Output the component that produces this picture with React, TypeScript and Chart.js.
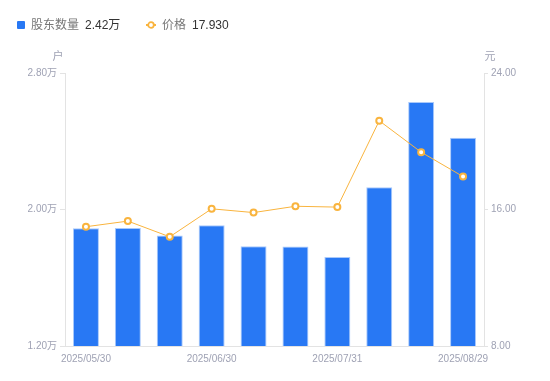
import React, { useEffect, useRef } from "react";
import { Chart, registerables } from "chart.js";

Chart.register(...registerables);

const categories = [
  "2025/05/30", "2025/06/10", "2025/06/20", "2025/06/30", "2025/07/10",
  "2025/07/20", "2025/07/31", "2025/08/10", "2025/08/20", "2025/08/29",
];
const shownLabels = ["2025/05/30", "2025/06/30", "2025/07/31", "2025/08/29"];
const holders = [1.89, 1.892, 1.847, 1.907, 1.784, 1.783, 1.722, 2.13, 2.63, 2.42];
const prices = [14.99, 15.32, 14.4, 16.04, 15.82, 16.19, 16.14, 21.2, 19.36, 17.93];
const leftTicks = [1.2, 2.0, 2.8];
const rightTicks = [8, 16, 24];
const holdersName = "股东数量";
const priceName = "价格";
const holdersLegendValue = "2.42万";
const priceLegendValue = "17.930";
const leftUnit = "户";
const rightUnit = "元";

const FONT = "Arial, 'Liberation Sans', 'Noto Sans CJK SC', sans-serif";
const TICK_COLOR = "#9fa2b4";
const AXIS_COLOR = "#e3e3e3";

export default function App() {
  const ref = useRef<HTMLCanvasElement | null>(null);

  useEffect(() => {
    document.body.style.margin = "0";
    const canvas = ref.current;
    if (!canvas) return;

    const unitPlugin = {
      id: "unitTitles",
      afterDraw(chart: any) {
        const ctx = chart.ctx;
        const a = chart.chartArea;
        ctx.save();
        ctx.font = `11px ${FONT}`;
        ctx.fillStyle = TICK_COLOR;
        ctx.textAlign = "center";
        ctx.textBaseline = "middle";
        ctx.fillText(leftUnit, a.left - 7, 57);
        ctx.fillText(rightUnit, a.right + 6, 57);
        ctx.restore();
      },
    };

    const chart = new Chart(canvas, {
      type: "bar",
      data: {
        labels: categories,
        datasets: [
          {
            type: "line",
            label: priceName,
            data: prices,
            yAxisID: "y1",
            borderColor: "#f9b43e",
            borderWidth: 1,
            pointRadius: 3,
            pointBorderWidth: 2,
            pointBackgroundColor: "#ffffff",
            pointBorderColor: "#f9b43e",
            tension: 0,
            order: 0,
          } as any,
          {
            type: "bar",
            label: holdersName,
            data: holders,
            yAxisID: "y",
            backgroundColor: "#2878f4",
            borderColor: "#a9c9fb",
            borderWidth: 1,
            categoryPercentage: 1,
            barPercentage: 0.62,
            order: 1,
          } as any,
        ],
      },
      options: {
        animation: false,
        responsive: false,
        maintainAspectRatio: false,
        layout: { padding: { left: 0, right: 0, top: 73, bottom: 0 } },
        plugins: {
          legend: { display: false },
          tooltip: { enabled: false },
        },
        scales: {
          x: {
            offset: true,
            grid: { display: false, drawTicks: false },
            border: { display: true, color: AXIS_COLOR },
            ticks: {
              autoSkip: false,
              maxRotation: 0,
              padding: 7,
              color: TICK_COLOR,
              font: { size: 10, family: FONT },
              callback: (_v: any, i: number) =>
                shownLabels.includes(categories[i]) ? categories[i] : "",
            },
            afterFit: (s: any) => { s.height = 35; },
          },
          y: {
            position: "left",
            min: leftTicks[0],
            max: leftTicks[leftTicks.length - 1],
            grid: { drawOnChartArea: false, drawTicks: true, tickLength: 5, color: AXIS_COLOR },
            border: { display: true, color: AXIS_COLOR },
            ticks: {
              padding: 3,
              color: TICK_COLOR,
              font: { size: 10, family: FONT },
              callback: (v: any) => Number(v).toFixed(2) + "万",
            },
            afterBuildTicks: (s: any) => { s.ticks = leftTicks.map((v) => ({ value: v })); },
            afterFit: (s: any) => { s.width = 65; },
          },
          y1: {
            position: "right",
            min: rightTicks[0],
            max: rightTicks[rightTicks.length - 1],
            grid: { drawOnChartArea: false, drawTicks: true, tickLength: 4, color: AXIS_COLOR },
            border: { display: true, color: AXIS_COLOR },
            ticks: {
              padding: 3,
              color: TICK_COLOR,
              font: { size: 10, family: FONT },
              callback: (v: any) => Number(v).toFixed(2),
            },
            afterBuildTicks: (s: any) => { s.ticks = rightTicks.map((v) => ({ value: v })); },
            afterFit: (s: any) => { s.width = 66; },
          },
        },
      } as any,
      plugins: [unitPlugin],
    });
    return () => chart.destroy();
  }, []);

  const textStyle: React.CSSProperties = { fontSize: 12, fontFamily: FONT, lineHeight: "16px" };

  return (
    <div style={{ position: "relative", width: 550, height: 381, background: "#fff" }}>
      <canvas ref={ref} width={550} height={381} style={{ display: "block", width: 550, height: 381 }} />
      <div style={{ position: "absolute", left: 17, top: 17, height: 16, display: "flex", alignItems: "center", ...textStyle }}>
        <span style={{ width: 8, height: 8, background: "#2878f4", borderRadius: 1, display: "inline-block" }} />
        <span style={{ marginLeft: 6, color: "#777" }}>{holdersName}</span>
        <span style={{ marginLeft: 6, color: "#333" }}>{holdersLegendValue}</span>
      </div>
      <div style={{ position: "absolute", left: 146, top: 17, height: 16, display: "flex", alignItems: "center", ...textStyle }}>
        <svg width="10" height="10" style={{ display: "block" }}>
          <line x1="0" y1="5" x2="10" y2="5" stroke="#f9b43e" strokeWidth="2" />
          <circle cx="5" cy="5" r="2.8" fill="#fff" stroke="#f9b43e" strokeWidth="1.8" />
        </svg>
        <span style={{ marginLeft: 6, color: "#777" }}>{priceName}</span>
        <span style={{ marginLeft: 6, color: "#333" }}>{priceLegendValue}</span>
      </div>
    </div>
  );
}
